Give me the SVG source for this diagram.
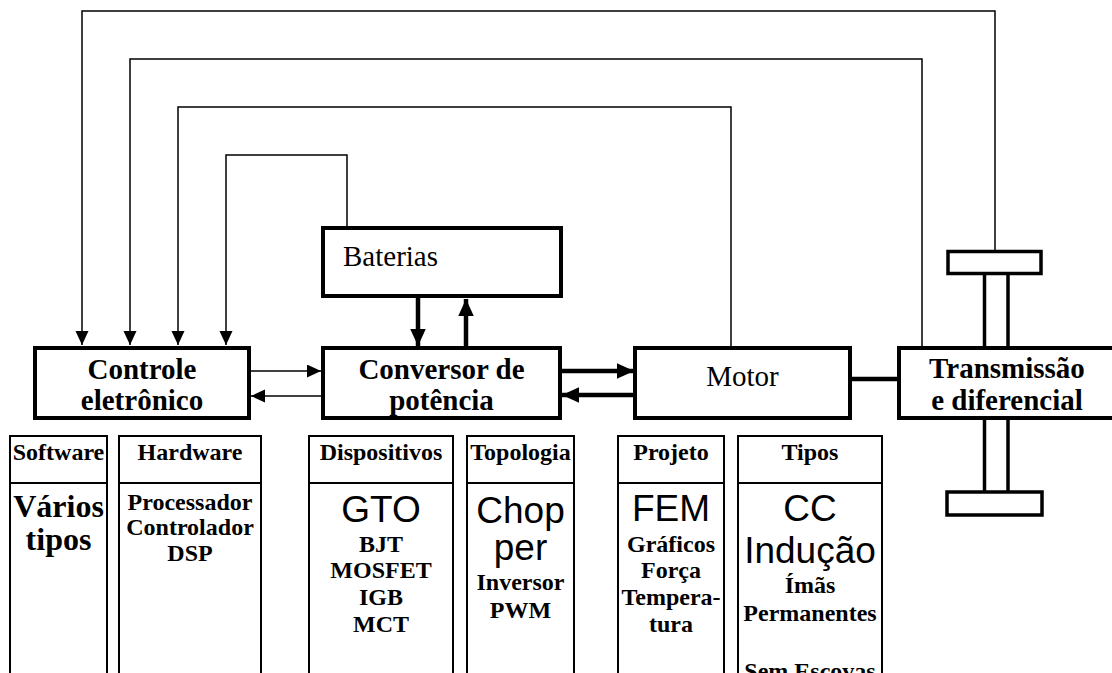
<svg xmlns="http://www.w3.org/2000/svg" width="1112" height="673" viewBox="0 0 1112 673">
<style>
.box{fill:#fff;stroke:#000;stroke-width:4}
.col{fill:#fff;stroke:#000;stroke-width:2}
.sep{stroke:#000;stroke-width:2}
.thin{fill:none;stroke:#000;stroke-width:1.5}
.thick{fill:none;stroke:#000;stroke-width:4.5}
.wheel{fill:#fff;stroke:#000;stroke-width:3.5}
.axle{stroke:#000;stroke-width:3.5}
.lbl{font-family:"Liberation Serif","Times New Roman",serif;font-size:29px;fill:#000}
.b{font-weight:bold}
.hd{font-family:"Liberation Serif","Times New Roman",serif;font-size:24px;font-weight:bold;text-anchor:middle;fill:#000}
.big{font-family:"Liberation Sans",Arial,sans-serif;font-size:37px;text-anchor:middle;fill:#000}
.mid{text-anchor:middle}
</style>
<defs>
<marker id="ah" markerUnits="userSpaceOnUse" markerWidth="14" markerHeight="14" refX="14" refY="6.5" orient="auto"><path d="M0,0 L14,6.5 L0,13 z" fill="#000"/></marker>
<marker id="ahT" markerUnits="userSpaceOnUse" markerWidth="17" markerHeight="16" refX="17" refY="7.75" orient="auto"><path d="M0,0 L17,7.75 L0,15.5 z" fill="#000"/></marker>
</defs>

<g id="connectors">
<path class="thin" d="M995,250 V11 H82 V345" marker-end="url(#ah)"/>
<path class="thin" d="M922,347 V59 H130 V345" marker-end="url(#ah)"/>
<path class="thin" d="M731,347 V107 H178 V345" marker-end="url(#ah)"/>
<path class="thin" d="M347,227 V155 H226 V345" marker-end="url(#ah)"/>
<path class="thin" d="M251,371 H321" marker-end="url(#ah)"/>
<path class="thin" d="M321,396 H251" marker-end="url(#ah)"/>
<path class="thick" d="M562,371 H634" marker-end="url(#ahT)"/>
<path class="thick" d="M634,395 H562" marker-end="url(#ahT)"/>
<path class="thick" d="M418,298 V346" marker-end="url(#ahT)"/>
<path class="thick" d="M466,346 V299" marker-end="url(#ahT)"/>
<path class="thick" d="M852,379 H897"/>
</g>

<g id="baterias">
<rect class="box" x="323" y="228" width="238" height="68"/>
<text class="lbl" x="343" y="266">Baterias</text>
</g>

<g id="controle">
<rect class="box" x="35" y="348" width="214" height="70"/>
<text class="lbl b mid" x="142" y="379">Controle</text>
<text class="lbl b mid" x="142" y="410">eletrônico</text>
</g>

<g id="conversor">
<rect class="box" x="323" y="348" width="237" height="70"/>
<text class="lbl b mid" x="441.5" y="379">Conversor de</text>
<text class="lbl b mid" x="441.5" y="410">potência</text>
</g>

<g id="motor">
<rect class="box" x="635" y="348" width="215" height="70"/>
<text class="lbl mid" x="742.5" y="386">Motor</text>
</g>

<g id="transmissao">
<line class="axle" x1="984.5" y1="274" x2="984.5" y2="347"/>
<line class="axle" x1="1008" y1="274" x2="1008" y2="347"/>
<line class="axle" x1="984.5" y1="419" x2="984.5" y2="492"/>
<line class="axle" x1="1008" y1="419" x2="1008" y2="492"/>
<rect class="wheel" x="948" y="251.5" width="93" height="22"/>
<rect class="wheel" x="947" y="492" width="95" height="23"/>
<rect class="box" x="899" y="348" width="220" height="70"/>
<text class="lbl b mid" x="1007" y="378">Transmissão</text>
<text class="lbl b mid" x="1007" y="410">e diferencial</text>
</g>

<g id="software">
<rect class="col" x="10" y="436" width="97" height="250"/>
<line class="sep" x1="10" y1="483" x2="107" y2="483"/>
<text class="hd" x="58.5" y="460">Software</text>
<text class="hd" style="font-size:32px" x="58.5" y="517">Vários</text>
<text class="hd" style="font-size:32px" x="58.5" y="550">tipos</text>
</g>

<g id="hardware">
<rect class="col" x="119" y="436" width="142" height="250"/>
<line class="sep" x1="119" y1="483" x2="261" y2="483"/>
<text class="hd" x="190" y="460">Hardware</text>
<text class="hd" x="190" y="510">Processador</text>
<text class="hd" x="190" y="535">Controlador</text>
<text class="hd" x="190" y="561">DSP</text>
</g>

<g id="dispositivos">
<rect class="col" x="309" y="436" width="144" height="250"/>
<line class="sep" x1="309" y1="483" x2="453" y2="483"/>
<text class="hd" x="381" y="460">Dispositivos</text>
<text class="big" x="381" y="522">GTO</text>
<text class="hd" x="381" y="552">BJT</text>
<text class="hd" x="381" y="578">MOSFET</text>
<text class="hd" x="381" y="605">IGB</text>
<text class="hd" x="381" y="632">MCT</text>
</g>

<g id="topologia">
<rect class="col" x="467" y="436" width="107" height="250"/>
<line class="sep" x1="467" y1="483" x2="574" y2="483"/>
<text class="hd" x="520.5" y="460">Topologia</text>
<text class="big" x="520.5" y="523">Chop</text>
<text class="big" x="520.5" y="560">per</text>
<text class="hd" x="520.5" y="590">Inversor</text>
<text class="hd" x="520.5" y="618">PWM</text>
</g>

<g id="projeto">
<rect class="col" x="618" y="436" width="106" height="250"/>
<line class="sep" x1="618" y1="483" x2="724" y2="483"/>
<text class="hd" x="671" y="460">Projeto</text>
<text class="big" x="671" y="521">FEM</text>
<text class="hd" x="671" y="552">Gráficos</text>
<text class="hd" x="671" y="578">Força</text>
<text class="hd" x="671" y="605">Tempera-</text>
<text class="hd" x="671" y="632">tura</text>
</g>

<g id="tipos">
<rect class="col" x="738" y="436" width="144" height="250"/>
<line class="sep" x1="738" y1="483" x2="882" y2="483"/>
<text class="hd" x="810" y="460">Tipos</text>
<text class="big" x="810" y="521">CC</text>
<text class="big" x="810" y="563">Indução</text>
<text class="hd" x="810" y="593">Ímãs</text>
<text class="hd" x="810" y="621">Permanentes</text>
<text class="hd" x="810" y="679">Sem Escovas</text>
</g>
</svg>
